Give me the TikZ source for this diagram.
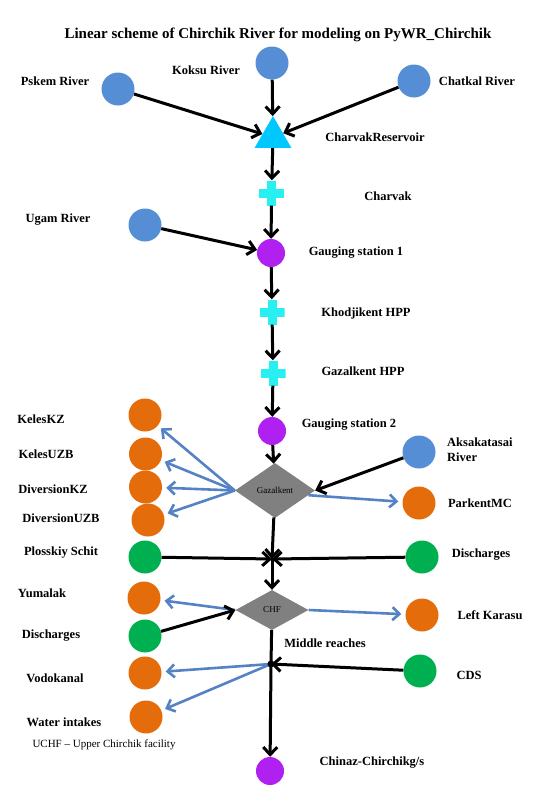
\documentclass[tikz,border=0pt]{standalone}
\usepackage{fontspec}
\setmainfont{Liberation Serif}
\usetikzlibrary{arrows.meta, shapes.geometric}
\definecolor{riverblue}{RGB}{85,142,213}
\definecolor{gaugepurple}{RGB}{176,32,240}
\definecolor{intakeorange}{RGB}{228,108,10}
\definecolor{dischgreen}{RGB}{0,176,80}
\definecolor{resvcyan}{RGB}{0,200,255}
\definecolor{hppcyan}{RGB}{40,240,240}
\definecolor{linkblue}{RGB}{84,130,196}
\tikzset{river/.style={circle, fill=riverblue, minimum size=33pt, inner sep=0pt}}
\tikzset{intake/.style={circle, fill=intakeorange, minimum size=33pt, inner sep=0pt}}
\tikzset{inflow/.style={circle, fill=dischgreen, minimum size=33pt, inner sep=0pt}}
\tikzset{gauge/.style={circle, fill=gaugepurple, minimum size=28pt, inner sep=0pt}}
\tikzset{reservoir/.style={regular polygon, regular polygon sides=3, fill=resvcyan, minimum size=42.6pt, inner sep=0pt}}
\tikzset{hpp/.style={rectangle, minimum size=25pt, inner sep=0pt, path picture={
    \fill[hppcyan] (path picture bounding box.center) ++(-4.5pt,-12.5pt) rectangle ++(9pt,25pt);
    \fill[hppcyan] (path picture bounding box.center) ++(-12.5pt,-4.5pt) rectangle ++(25pt,9pt);}}}
\tikzset{facility/.style={diamond, fill=gray, inner sep=0pt, font=\fontsize{9}{10}\selectfont}}
\tikzset{lbl/.style={font=\bfseries\fontsize{12.5}{15}\selectfont, inner sep=0pt}}
\tikzset{flow/.style={-{Straight Barb[length=7.5pt,width=14pt]}, line width=3pt}}
\tikzset{take/.style={-{Straight Barb[length=7pt,width=13pt]}, line width=2.6pt, draw=linkblue, shorten >=4pt}}

\begin{document}
\begin{tikzpicture}[x=1pt, y=-1pt]
    \useasboundingbox (0,0) rectangle (543,798);
    \node[font=\bfseries\fontsize{15}{18}\selectfont, inner sep=0pt] (title) at (278,35) {Linear scheme of Chirchik River for modeling on PyWR\_Chirchik};
    % upper part
    \node[river] (pskem) at (118,89) {};
    \node[river] (koksu) at (272,63) {};
    \node[river] (chatkal) at (414,81) {};
    \node[reservoir] (charvakres) at (273,137.3) {};
    \node[hpp] (charvak) at (271.5,193) {};
    \node[river] (ugam) at (145,225) {};
    \node[gauge] (gs1) at (271,253) {};
    \node[hpp] (khodj) at (272,312) {};
    \node[hpp] (gazhpp) at (273,373) {};
    \node[gauge] (gs2) at (272,431) {};
    \node[lbl] (pskemtxt) at (55,81) {Pskem River};
    \node[lbl] (koksutxt) at (206,70) {Koksu River};
    \node[lbl] (chatkaltxt) at (477,81) {Chatkal River};
    \node[lbl] (charvakrestxt) at (375,137) {CharvakReservoir};
    \node[lbl] (charvaktxt) at (388,196) {Charvak};
    \node[lbl] (ugamtxt) at (58,220) {Ugam River};
    \node[lbl] (gs1txt) at (356,253) {Gauging station 1};
    \node[lbl] (khodjtxt) at (366,313) {Khodjikent HPP};
    \node[lbl] (gazhpptxt) at (363,371) {Gazalkent HPP};
    \node[lbl] (gs2txt) at (349,425) {Gauging station 2};
    % Gazalkent facility
    \node[facility, minimum width=80pt, minimum height=55pt] (gazalkent) at (275,490.5) {Gazalkent};
    \node[intake] (keleskz) at (145,415) {};
    \node[intake] (kelesuzb) at (145.5,454) {};
    \node[intake] (divkz) at (145.5,487) {};
    \node[intake] (divuzb) at (148,520) {};
    \node[river] (aksa) at (419,452) {};
    \node[intake] (parkent) at (419,503) {};
    \node[lbl] (keleskztxt) at (41,419) {KelesKZ};
    \node[lbl] (kelesuzbtxt) at (46,454) {KelesUZB};
    \node[lbl] (divkztxt) at (53,489) {DiversionKZ};
    \node[lbl] (divuzbtxt) at (61,518) {DiversionUZB};
    \node[lbl, anchor=west, align=left] (aksatxt) at (447,449.5) {Aksakatasai\\River};
    \node[lbl] (parkenttxt) at (480,503) {ParkentMC};
    % CHF and middle reaches
    \coordinate (j1) at (272,559);
    \node[inflow] (plosskiy) at (145,557) {};
    \node[inflow] (dischr) at (422,557) {};
    \node[facility, minimum width=73pt, minimum height=40pt] (chf) at (272,610) {CHF};
    \node[intake] (yumalak) at (144,598) {};
    \node[inflow] (dischl) at (145,636) {};
    \node[intake] (karasu) at (422,615) {};
    \coordinate (j2) at (271,664);
    \node[intake] (vodokanal) at (145,673) {};
    \node[intake] (intakes) at (146,717) {};
    \node[inflow] (cds) at (420,671) {};
    \node[gauge] (chinaz) at (270,771) {};
    \node[lbl] (plosskiytxt) at (61,553) {Plosskiy Schit};
    \node[lbl] (dischrtxt) at (481,555) {Discharges};
    \node[lbl] (yumalaktxt) at (42,593) {Yumalak};
    \node[lbl] (dischltxt) at (51,636) {Discharges};
    \node[lbl] (karasutxt) at (490,615) {Left Karasu};
    \node[lbl] (middletxt) at (325,643) {Middle reaches};
    \node[lbl] (vodokanaltxt) at (55,678) {Vodokanal};
    \node[lbl] (intakestxt) at (64,722) {Water intakes};
    \node[lbl] (cdstxt) at (469,675) {CDS};
    \node[lbl] (chinaztxt) at (372,763) {Chinaz-Chirchikg/s};
    \node[font=\fontsize{11}{13}\selectfont, inner sep=0pt] (uchftxt) at (104,745) {UCHF -- Upper Chirchik facility};
    % connectors
    \draw[flow] (pskem) -- (charvakres);
    \draw[flow] (koksu) -- (charvakres);
    \draw[flow] (chatkal) -- (charvakres);
    \draw[flow] (charvakres) -- (charvak);
    \draw[flow] (charvak) -- (gs1);
    \draw[flow] (ugam) -- (gs1);
    \draw[flow] (gs1) -- (khodj);
    \draw[flow] (khodj) -- (gazhpp);
    \draw[flow] (gazhpp) -- (gs2);
    \draw[flow] (gs2) -- (gazalkent);
    \draw[flow] (aksa) -- (gazalkent.east);
    \foreach \target in {keleskz, kelesuzb, divkz, divuzb} {
        \draw[take] (gazalkent.west) -- (\target);
    }
    \draw[take] (gazalkent.-8) -- (parkent);
    \draw[flow] (gazalkent) -- (j1);
    \draw[flow] (plosskiy) -- (j1);
    \draw[flow] (dischr) -- (j1);
    \fill (j1) circle (2pt);
    \draw[flow] (j1) -- (chf);
    \draw[take] (chf.west) -- (yumalak);
    \draw[flow] (dischl) -- (chf.west);
    \draw[take] (chf.east) -- (karasu);
    \draw[line width=3pt] (chf) -- (j2);
    \draw[take] (j2) -- (vodokanal);
    \draw[take] (j2) -- (intakes);
    \draw[flow] (cds) -- (j2);
    \draw[flow] (j2) -- (chinaz);
    \fill (j2) circle (3.5pt);
\end{tikzpicture}
\end{document}
